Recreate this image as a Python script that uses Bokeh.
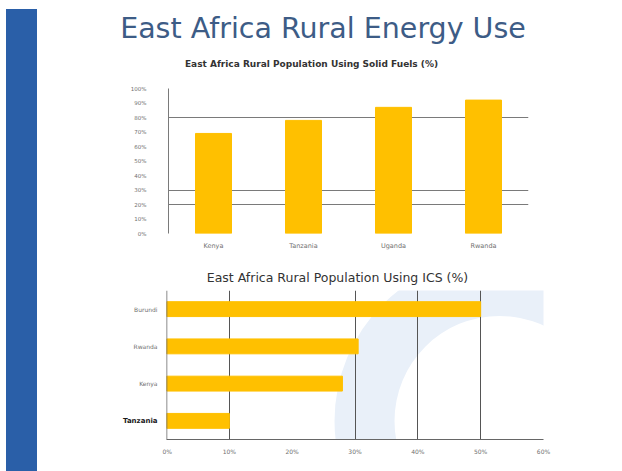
from bokeh.plotting import figure
from bokeh.layouts import row, column
from bokeh.models import Div, Range1d, FactorRange, FixedTicker, Span
from bokeh.core.properties import value
from bokeh.embed import file_html
from bokeh.resources import INLINE

# ---------------- data ----------------
main_title = "East Africa Rural Energy Use"
solid_title = "East Africa Rural Population Using Solid Fuels (%)"
solid_countries = ["Kenya", "Tanzania", "Uganda", "Rwanda"]
solid_values = [69, 78, 87, 92]
solid_ticks = [0, 10, 20, 30, 40, 50, 60, 70, 80, 90, 100]
solid_grid = [20, 30, 80]

ics_title = "East Africa Rural Population Using ICS (%)"
ics_countries = ["Tanzania", "Kenya", "Rwanda", "Burundi"]   # bottom to top
ics_values = [10, 28, 30.5, 50]
ics_ticks = [0, 10, 20, 30, 40, 50, 60]
ics_grid = [10, 30, 40, 50]
ics_bold = ["Tanzania"]          # category label shown in bold in the original

BAR = "#FFC000"
FONT = "DejaVu Sans"
TITLE_COL = "#3d5c86"
LABEL_COL = "#707070"
WATERMARK = "#e9f0f9"

COLW = 584

def blank(w, h, **kw):
    p = figure(width=w, height=h, output_backend="svg", toolbar_location=None,
               outline_line_color=None, **kw)
    p.axis.visible = False
    p.grid.visible = False
    return p

def style_axis(ax, size, standoff):
    ax.major_tick_line_color = None
    ax.minor_tick_line_color = None
    ax.major_tick_out = 0
    ax.major_tick_in = 0
    ax.minor_tick_out = 0
    ax.minor_tick_in = 0
    ax.major_label_text_font = FONT
    ax.major_label_text_color = LABEL_COL
    ax.major_label_text_font_size = size
    ax.major_label_standoff = standoff

# ---------------- header with main title and chart 1 title ----------------
head1 = blank(COLW, 73, x_range=Range1d(0, COLW), y_range=Range1d(0, 73), min_border=0)
head1.text(x=[285.5], y=[45], text=[main_title], text_align="center", text_baseline="middle",
           text_font=value(FONT), text_font_size="28.5px", text_color=TITLE_COL)
head1.text(x=[274], y=[10], text=[solid_title], text_align="center", text_baseline="middle",
           text_font=value(FONT), text_font_size="9px", text_font_style="bold", text_color="#333333")

# ---------------- chart 1: vertical bars ----------------
p1 = figure(width=COLW, height=189, x_range=FactorRange(*solid_countries), y_range=Range1d(0, 100),
            output_backend="svg", toolbar_location=None,
            min_border_left=131, min_border_right=93, min_border_top=15, min_border_bottom=29,
            outline_line_color=None)
p1.vbar(x=solid_countries, top=solid_values, width=0.4, color=BAR)
p1.x_range.range_padding = 0
p1.xgrid.visible = False
p1.ygrid.ticker = FixedTicker(ticks=solid_grid)
p1.ygrid.grid_line_color = "#7a7a7a"
p1.ygrid.grid_line_width = 1
p1.yaxis.ticker = FixedTicker(ticks=solid_ticks)
p1.yaxis.major_label_overrides = {t: f"{t}%" for t in solid_ticks}
p1.yaxis.axis_line_color = "#7a7a7a"
p1.xaxis.axis_line_color = None
style_axis(p1.yaxis, "5.5px", 22)
style_axis(p1.xaxis, "6.5px", 8)

# ---------------- header for chart 2 ----------------
head2 = blank(COLW, 26, x_range=Range1d(0, COLW), y_range=Range1d(0, 26), min_border=0)
head2.text(x=[300], y=[11], text=[ics_title], text_align="center", text_baseline="middle",
           text_font=value(FONT), text_font_size="12.5px", text_color="#333333")

# ---------------- chart 2: horizontal bars ----------------
LABW = 125
ics_range = FactorRange(*ics_countries)
p2 = figure(width=COLW - LABW, height=183, y_range=ics_range, x_range=Range1d(0, 60),
            output_backend="svg", toolbar_location=None,
            min_border_left=4, min_border_right=78, min_border_top=2, min_border_bottom=32,
            outline_line_color=None)
# faint background watermark ring (decoration)
p2.annulus(x=[53], y=[0.5], inner_radius=105, outer_radius=165,
           inner_radius_units="screen", outer_radius_units="screen",
           fill_color=WATERMARK, line_color=None, level="image")
p2.hbar(y=ics_countries, right=ics_values, height=0.4, color=BAR)
p2.y_range.range_padding = 0
p2.ygrid.visible = False
p2.xgrid.ticker = FixedTicker(ticks=ics_grid)
p2.xgrid.grid_line_color = "#555555"
p2.xgrid.grid_line_width = 1
p2.xaxis.ticker = FixedTicker(ticks=ics_ticks)
p2.xaxis.major_label_overrides = {t: f"{t}%" for t in ics_ticks}
p2.xaxis.axis_line_color = "#666666"
style_axis(p2.xaxis, "6px", 8)
# category labels are drawn in the side panel below; the value axis line stays here
p2.yaxis.visible = False
p2.add_layout(Span(location=0, dimension="height", line_color="#666666", line_width=1.5))

# category labels of chart 2 (shares the chart's factor range)
lab2 = blank(LABW, 183, x_range=Range1d(0, LABW), y_range=ics_range,
             min_border_left=0, min_border_right=0, min_border_top=2, min_border_bottom=32)
regular = [c for c in ics_countries if c not in ics_bold]
lab2.text(x=[LABW - 5] * len(regular), y=regular, text=regular, text_align="right",
          text_baseline="middle", text_font=value(FONT), text_font_size="6px",
          text_color=LABEL_COL)
lab2.text(x=[LABW - 5] * len(ics_bold), y=ics_bold, text=ics_bold, text_align="right",
          text_baseline="middle", text_font=value(FONT), text_font_size="7px",
          text_font_style="bold", text_color="#1a1a1a")

bluebar = Div(width=31, height=462, margin=(9, 0, 0, 6), styles={"background-color": "#2a5fa8"})
charts = column(row(head1), row(p1), row(head2), row(lab2, p2, spacing=0), spacing=0, margin=0)
layout = row(bluebar, charts, spacing=0, margin=0)

open("out.html", "w").write(file_html(layout, INLINE))
